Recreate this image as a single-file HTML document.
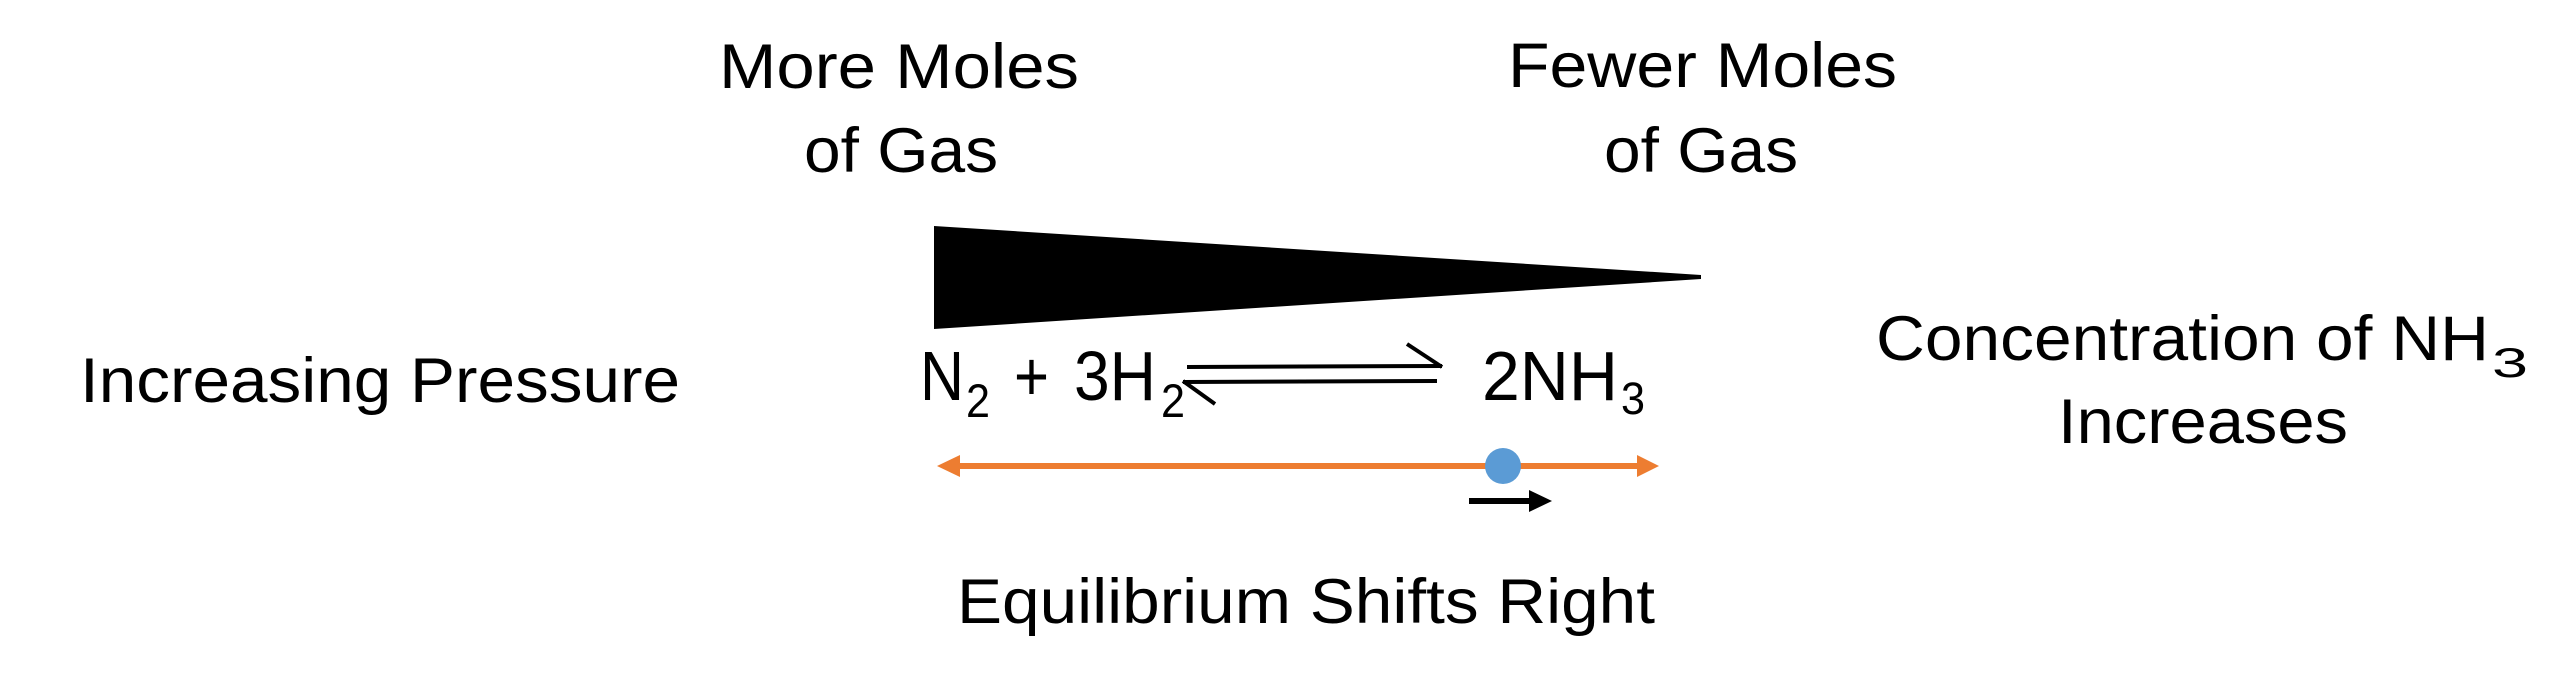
<!DOCTYPE html>
<html><head><meta charset="utf-8"><style>html,body{margin:0;padding:0;background:#fff}svg{display:block}</style></head>
<body>
<svg width="2560" height="683" viewBox="0 0 2560 683" xmlns="http://www.w3.org/2000/svg" font-family="Liberation Sans, sans-serif" fill="#000">
<g font-size="63">
<text x="719" y="88" textLength="360" lengthAdjust="spacingAndGlyphs">More Moles</text>
<text x="804" y="172" textLength="194" lengthAdjust="spacingAndGlyphs">of Gas</text>
<text x="1508" y="87" textLength="389" lengthAdjust="spacingAndGlyphs">Fewer Moles</text>
<text x="1604" y="172" textLength="194" lengthAdjust="spacingAndGlyphs">of Gas</text>
<text x="80" y="402" textLength="600" lengthAdjust="spacingAndGlyphs">Increasing Pressure</text>
<text x="1876" y="360" textLength="613" lengthAdjust="spacingAndGlyphs">Concentration of NH</text>
<text x="2058" y="443" textLength="290" lengthAdjust="spacingAndGlyphs">Increases</text>
<text x="957" y="623" textLength="698" lengthAdjust="spacingAndGlyphs">Equilibrium Shifts Right</text>
</g>
<text x="2492" y="377" font-size="42" textLength="36" lengthAdjust="spacingAndGlyphs">3</text>
<!-- equation -->
<text x="920" y="400" font-size="70" textLength="44" lengthAdjust="spacingAndGlyphs">N</text>
<text x="966" y="417" font-size="47" textLength="24" lengthAdjust="spacingAndGlyphs">2</text>
<text x="1014" y="400" font-size="70" textLength="35" lengthAdjust="spacingAndGlyphs">+</text>
<text x="1074" y="400" font-size="70" textLength="82" lengthAdjust="spacingAndGlyphs">3H</text>
<text x="1161" y="417" font-size="47" textLength="24" lengthAdjust="spacingAndGlyphs">2</text>
<text x="1482" y="400" font-size="70" textLength="136" lengthAdjust="spacingAndGlyphs">2NH</text>
<text x="1621" y="414" font-size="45" textLength="24" lengthAdjust="spacingAndGlyphs">3</text>
<!-- equilibrium arrows -->
<g stroke="#000" stroke-width="4" fill="none">
<line x1="1187" y1="367" x2="1442" y2="366"/>
<line x1="1407" y1="344" x2="1442" y2="367"/>
<line x1="1183" y1="382" x2="1437" y2="381"/>
<line x1="1183" y1="381" x2="1215" y2="404"/>
</g>
<!-- wedge -->
<polygon points="934,226 1701,275 1701,279 934,329"/>
<!-- orange double arrow -->
<line x1="955" y1="466" x2="1640" y2="466" stroke="#ED7D31" stroke-width="6"/>
<polygon points="937,466 960,455 960,477" fill="#ED7D31"/>
<polygon points="1659,466 1637,455 1637,477" fill="#ED7D31"/>
<circle cx="1503" cy="466" r="18" fill="#5B9BD5"/>
<!-- black arrow -->
<line x1="1469" y1="501" x2="1532" y2="501" stroke="#000" stroke-width="6"/>
<polygon points="1529,490 1552,501 1529,512"/>
</svg>
</body></html>
